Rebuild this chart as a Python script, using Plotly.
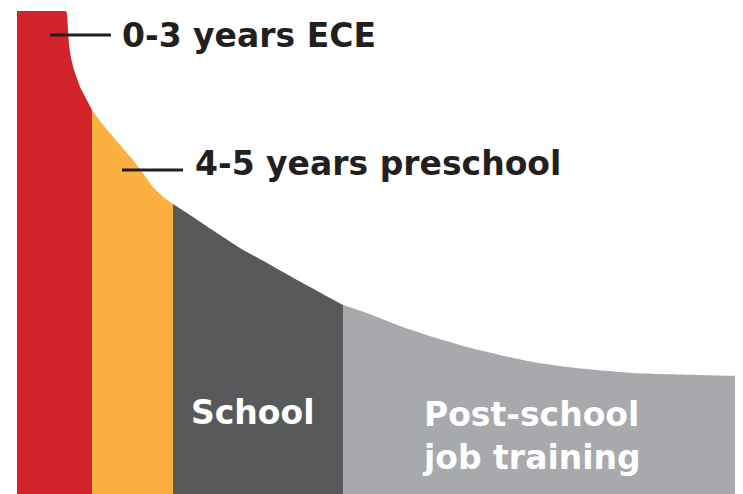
import plotly.graph_objects as go

# Curve of return on investment (abstract units) along the life course axis
age_pos = [17, 66, 67, 68, 69, 71, 74, 80, 86, 92, 100, 110, 120, 133, 145, 153, 160, 167, 173,
           190, 217, 240, 267, 290, 310, 330, 343, 367, 400, 433, 467, 500, 533, 567, 633, 700, 743]
returns = [483, 483, 480, 464, 449, 436, 424, 407, 395, 384, 373, 361, 349, 334, 318, 307, 300, 294, 290,
           279, 261, 246, 231, 218, 207, 196, 189, 181, 168, 157, 147, 139, 132, 127, 121, 119, 118]

stage_bounds = [17, 92, 173, 343, 743]
stage_names = ["0-3 years ECE", "4-5 years preschool", "School", "Post-school job training"]
stage_colors = ["#D2232A", "#FBB040", "#58595B", "#A7A9AC"]

fig = go.Figure()
for i, name in enumerate(stage_names):
    lo, hi = stage_bounds[i], stage_bounds[i + 1]
    xs = [x for x in age_pos if lo <= x <= hi]
    ys = [y for x, y in zip(age_pos, returns) if lo <= x <= hi]
    shape = "linear" if i == 0 else "spline"
    fig.add_trace(go.Scatter(x=xs, y=ys, mode="lines", fill="tozeroy",
                             line=dict(color=stage_colors[i], width=0, shape=shape, smoothing=0.6),
                             fillcolor=stage_colors[i], name=name,
                             showlegend=False, hoverinfo="skip"))

font = "DejaVu Sans, sans-serif"
# leader lines
fig.add_shape(type="line", x0=50, x1=111, y0=459, y1=459, line=dict(color="#231F20", width=3))
fig.add_shape(type="line", x0=122, x1=183, y0=324, y1=324, line=dict(color="#231F20", width=3))

fig.add_annotation(x=120, y=459, text="<b>0-3 years ECE</b>", showarrow=False,
                   xanchor="left", yanchor="middle", font=dict(family=font, size=33, color="#231F20"))
fig.add_annotation(x=193, y=331, text="<b>4-5 years preschool</b>", showarrow=False,
                   xanchor="left", yanchor="middle", font=dict(family=font, size=33, color="#231F20"))
fig.add_annotation(x=189, y=82, text="<b>School</b>", showarrow=False,
                   xanchor="left", yanchor="middle", font=dict(family=font, size=33, color="white"))
fig.add_annotation(x=420, y=58, text="<b>Post-school<br>job training</b>", showarrow=False,
                   xanchor="left", yanchor="middle", align="left",
                   font=dict(family=font, size=33, color="white"))

# The page body adds an 8px offset, so the figure fills the remaining window
fig.update_layout(width=735, height=486, margin=dict(l=0, r=0, t=0, b=0),
                  plot_bgcolor="white", paper_bgcolor="white")
fig.update_xaxes(range=[8, 743], visible=False, fixedrange=True)
fig.update_yaxes(range=[0, 486], visible=False, fixedrange=True)

fig.write_html("out.html")
